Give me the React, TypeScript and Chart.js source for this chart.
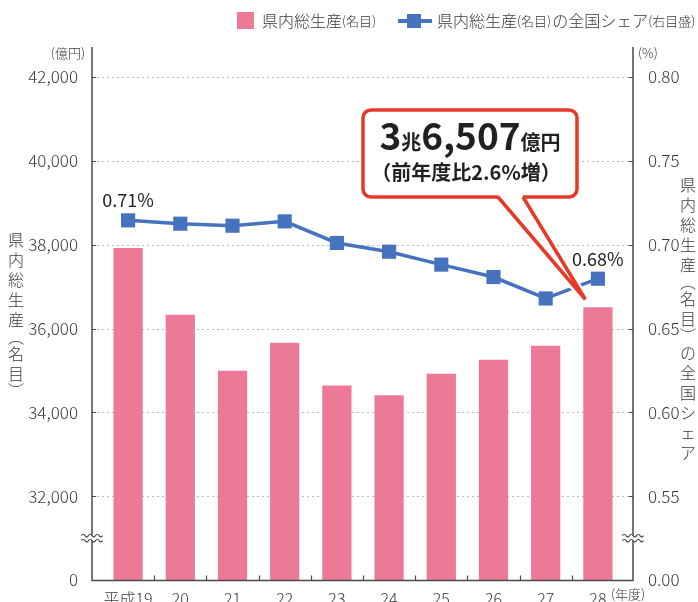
import { useEffect, useRef } from 'react';
import { Chart, registerables } from 'chart.js';

Chart.register(...registerables);

const FONT = '"Noto Sans CJK JP", "Noto Sans", sans-serif';

// ---- data ----
const categories = ['平成19', '20', '21', '22', '23', '24', '25', '26', '27', '28'];
const grossProduct = [37921, 36326, 34993, 35659, 34643, 34405, 34921, 35255, 35588, 36507];
const nationalShare = [0.7145, 0.7125, 0.7113, 0.7139, 0.701, 0.6958, 0.6881, 0.6807, 0.6679, 0.6797];
const shareLabels = ['0.71%', '', '', '', '', '', '', '', '', '0.68%'];
const leftTickValues = [30000, 32000, 34000, 36000, 38000, 40000, 42000];
const leftTickLabels = ['0', '32,000', '34,000', '36,000', '38,000', '40,000', '42,000'];
const rightTickValues = [0.5, 0.55, 0.6, 0.65, 0.7, 0.75, 0.8];
const rightTickLabels = ['0.00', '0.55', '0.60', '0.65', '0.70', '0.75', '0.80'];
const barLegend = ['県内総生産', '(名目)'];
const lineLegend = ['県内総生産', '(名目)', 'の全国シェア', '(右目盛)'];
const leftTitle = '県内総生産︵名目︶';
const rightTitle = '県内総生産︵名目︶の全国シェア';
const leftUnit = '(億円)';
const rightUnit = '(%)';
const xUnit = '(年度)';
const calloutMain = ['3', '兆', '6,507', '億円'];
const calloutSub = '（前年度比2.6%増）';

const PINK = '#ec7a96';
const BLUE = '#4672be';
const RED = '#e5392a';
const AXIS = '#4a4a4a';
const TEXT = '#383838';

function drawVertical(ctx: CanvasRenderingContext2D, text: string, x: number, yStart: number) {
  let y = yStart;
  let prevH = 0;
  for (const ch of Array.from(text)) {
    const h = ch === '︵' || ch === '︶' ? 14 : 20;
    if (prevH) y += (prevH + h) / 2;
    ctx.fillText(ch, x, y);
    prevH = h;
  }
}

function drawBreak(ctx: CanvasRenderingContext2D, x: number, y: number) {
  ctx.fillStyle = '#fff';
  ctx.fillRect(x - 3, y - 2.5, 6, 5);
  ctx.strokeStyle = AXIS;
  ctx.lineWidth = 1.1;
  ctx.setLineDash([]);
  for (const dy of [-2.5, 2.5]) {
    const yy = y + dy;
    const x0 = x - 10.5;
    ctx.beginPath();
    ctx.moveTo(x0, yy);
    for (let k = 0; k < 3; k++) {
      const xs = x0 + k * 7;
      ctx.quadraticCurveTo(xs + 1.75, yy - 2.6, xs + 3.5, yy);
      ctx.quadraticCurveTo(xs + 5.25, yy + 2.6, xs + 7, yy);
    }
    ctx.stroke();
  }
}

const overlay = {
  id: 'overlay',
  beforeDatasetsDraw(chart: any) {
    const { ctx, chartArea } = chart;
    const y = chart.scales.y;
    const axL = chartArea.left - 10;
    const axR = chartArea.right + 9;
    ctx.save();
    ctx.strokeStyle = '#b8b8b8';
    ctx.lineWidth = 1;
    ctx.setLineDash([2, 3]);
    leftTickValues.slice(1).forEach((v) => {
      const py = Math.round(y.getPixelForValue(v)) + 0.5;
      ctx.beginPath();
      ctx.moveTo(axL, py);
      ctx.lineTo(axR, py);
      ctx.stroke();
    });
    ctx.restore();
  },
  afterDatasetsDraw(chart: any) {
    const { ctx, chartArea } = chart;
    const y = chart.scales.y;
    const x = chart.scales.x;
    const axL = chartArea.left - 10;
    const axR = chartArea.right + 9;
    const top = chartArea.top - 30;
    const bottom = chartArea.bottom + 0.5;
    ctx.save();

    // axes
    ctx.strokeStyle = AXIS;
    ctx.lineWidth = 1.5;
    ctx.beginPath();
    ctx.moveTo(axL, top);
    ctx.lineTo(axL, bottom);
    ctx.lineTo(axR, bottom);
    ctx.lineTo(axR, top);
    ctx.stroke();

    // y ticks (inward)
    ctx.lineWidth = 1.2;
    leftTickValues.slice(1).forEach((v) => {
      const py = Math.round(y.getPixelForValue(v)) + 0.5;
      ctx.beginPath();
      ctx.moveTo(axL, py);
      ctx.lineTo(axL + 4, py);
      ctx.moveTo(axR, py);
      ctx.lineTo(axR - 4, py);
      ctx.stroke();
    });
    // x ticks between categories
    for (let i = 0; i < categories.length - 1; i++) {
      const px = Math.round((x.getPixelForValue(i) + x.getPixelForValue(i + 1)) / 2) + 0.5;
      ctx.beginPath();
      ctx.moveTo(px, bottom);
      ctx.lineTo(px, bottom - 5);
      ctx.stroke();
    }

    // breaks
    const yb = (y.getPixelForValue(leftTickValues[0]) + y.getPixelForValue(leftTickValues[1])) / 2;
    drawBreak(ctx, axL, yb);
    drawBreak(ctx, axR, yb);

    // units
    ctx.fillStyle = TEXT;
    ctx.font = `300 13px ${FONT}`;
    ctx.textBaseline = 'middle';
    ctx.textAlign = 'right';
    ctx.fillText(leftUnit, axL - 7, top + 6);
    ctx.textAlign = 'left';
    ctx.fillText(rightUnit, axR + 5, top + 6);
    const lastX = x.getPixelForValue(categories.length - 1);
    ctx.fillText(xUnit, lastX + 13, chartArea.bottom + 14);

    // vertical titles
    ctx.font = `300 16px ${FONT}`;
    ctx.textAlign = 'center';
    drawVertical(ctx, leftTitle, 16, 240);
    drawVertical(ctx, rightTitle, 688, 185);

    // legend
    ctx.textAlign = 'left';
    ctx.fillStyle = PINK;
    ctx.fillRect(237, 12, 17, 17);
    const ly = 21;
    const drawParts = (parts: string[], start: number) => {
      let cx = start;
      parts.forEach((p) => {
        const small = p.startsWith('(');
        ctx.font = small ? `300 13px ${FONT}` : `300 16px ${FONT}`;
        ctx.fillStyle = TEXT;
        ctx.fillText(p, cx, ly + (small ? 0.5 : 0));
        cx += ctx.measureText(p).width + (small ? 1 : 0);
      });
      return cx;
    };
    drawParts(barLegend, 262);
    ctx.strokeStyle = BLUE;
    ctx.lineWidth = 4;
    ctx.beginPath();
    ctx.moveTo(398, ly);
    ctx.lineTo(432, ly);
    ctx.stroke();
    ctx.fillStyle = BLUE;
    ctx.fillRect(407, ly - 7, 14, 14);
    drawParts(lineLegend, 437);

    // data labels
    const lineMeta = chart.getDatasetMeta(0);
    ctx.font = `18px ${FONT}`;
    ctx.fillStyle = '#222';
    ctx.textAlign = 'center';
    shareLabels.forEach((t, i) => {
      if (!t) return;
      const pt = lineMeta.data[i];
      ctx.fillText(t, pt.x, pt.y - 20);
    });

    // callout
    const barMeta = chart.getDatasetMeta(1);
    const bar = barMeta.data[categories.length - 1];
    const tipX = bar.x - bar.width / 2 + 2;
    const tipY = bar.y - 8;
    const bx0 = 363, by0 = 110, bx1 = 577, by1 = 197;
    const p0 = 498, p1 = 523;
    ctx.strokeStyle = '#fff';
    ctx.lineWidth = 8;
    ctx.lineJoin = 'miter';
    ctx.beginPath();
    ctx.moveTo(p0, by1 + 4);
    ctx.lineTo(tipX, tipY);
    ctx.lineTo(p1, by1 + 4);
    ctx.stroke();
    ctx.beginPath();
    ctx.roundRect(bx0, by0, bx1 - bx0, by1 - by0, 8);
    ctx.fillStyle = '#fff';
    ctx.fill();
    ctx.strokeStyle = RED;
    ctx.lineWidth = 3.5;
    ctx.stroke();
    ctx.fillStyle = '#fff';
    ctx.beginPath();
    ctx.moveTo(p0 + 1, by1 - 4);
    ctx.lineTo(p0, by1);
    ctx.lineTo(tipX, tipY);
    ctx.lineTo(p1, by1);
    ctx.lineTo(p1 - 1, by1 - 4);
    ctx.closePath();
    ctx.fill();
    ctx.strokeStyle = RED;
    ctx.lineWidth = 3.5;
    ctx.beginPath();
    ctx.moveTo(p0, by1);
    ctx.lineTo(tipX, tipY);
    ctx.lineTo(p1, by1);
    ctx.stroke();

    const cx = (bx0 + bx1) / 2;
    ctx.fillStyle = '#231f20';
    ctx.textBaseline = 'alphabetic';
    ctx.textAlign = 'left';
    const fonts = calloutMain.map((_, i) => (i % 2 === 0 ? `bold 37px ${FONT}` : `bold 20px ${FONT}`));
    let total = 0;
    const widths = calloutMain.map((t, i) => {
      ctx.font = fonts[i];
      const w = ctx.measureText(t).width;
      total += w;
      return w;
    });
    let tx = cx - total / 2;
    calloutMain.forEach((t, i) => {
      ctx.font = fonts[i];
      ctx.fillText(t, tx, 150);
      tx += widths[i];
    });
    ctx.font = `bold 20px ${FONT}`;
    ctx.textAlign = 'center';
    ctx.textBaseline = 'middle';
    ctx.fillText(calloutSub, cx - 4, 172);

    ctx.restore();
  },
};

export default function App() {
  const ref = useRef<HTMLCanvasElement | null>(null);
  useEffect(() => {
    if (!ref.current) return;
    const chart = new Chart(ref.current, {
      type: 'bar',
      data: {
        labels: categories,
        datasets: [
          {
            type: 'line',
            label: '県内総生産(名目)の全国シェア',
            data: nationalShare,
            yAxisID: 'y2',
            borderColor: BLUE,
            backgroundColor: BLUE,
            borderWidth: 3.5,
            pointStyle: 'rect',
            pointRadius: 10,
            pointHoverRadius: 10,
            pointBorderWidth: 0,
            pointBackgroundColor: BLUE,
            tension: 0,
            order: 1,
          } as any,
          {
            type: 'bar',
            label: '県内総生産(名目)',
            data: grossProduct,
            yAxisID: 'y',
            backgroundColor: PINK,
            barPercentage: 0.56,
            categoryPercentage: 1,
            order: 2,
          },
        ],
      },
      options: {
        responsive: false,
        maintainAspectRatio: false,
        devicePixelRatio: 1,
        animation: false,
        layout: { padding: { top: 77, left: 0, right: 0, bottom: 0 } },
        plugins: { legend: { display: false }, tooltip: { enabled: false } },
        scales: {
          x: {
            grid: { display: false },
            border: { display: false },
            ticks: {
              font: { family: FONT, size: 16, weight: '300' },
              color: TEXT,
              padding: 1,
              maxRotation: 0,
              autoSkip: false,
            },
            afterFit: (s: any) => {
              s.height = 22;
            },
          },
          y: {
            position: 'left',
            min: leftTickValues[0],
            max: leftTickValues[leftTickValues.length - 1],
            grid: { display: false },
            border: { display: false },
            afterBuildTicks: (s: any) => {
              s.ticks = leftTickValues.map((v) => ({ value: v }));
            },
            ticks: {
              font: { family: FONT, size: 17, weight: '300' },
              color: TEXT,
              padding: 16,
              callback: (_v: any, i: number) => leftTickLabels[i],
            },
            afterFit: (s: any) => {
              s.width = 102;
              s.paddingTop = 0;
              s.paddingBottom = 0;
            },
          },
          y2: {
            position: 'right',
            min: rightTickValues[0],
            max: rightTickValues[rightTickValues.length - 1],
            grid: { display: false },
            border: { display: false },
            afterBuildTicks: (s: any) => {
              s.ticks = rightTickValues.map((v) => ({ value: v }));
            },
            ticks: {
              font: { family: FONT, size: 17, weight: '300' },
              color: TEXT,
              padding: 16,
              callback: (_v: any, i: number) => rightTickLabels[i],
            },
            afterFit: (s: any) => {
              s.width = 74;
              s.paddingTop = 0;
              s.paddingBottom = 0;
            },
          },
        },
      },
      plugins: [overlay],
    });
    return () => chart.destroy();
  }, []);
  return (
    <div style={{ position: 'fixed', left: 0, top: 0, width: 698, height: 602, background: '#fff' }}>
      <canvas ref={ref} width={698} height={602} style={{ display: 'block' }} />
    </div>
  );
}
